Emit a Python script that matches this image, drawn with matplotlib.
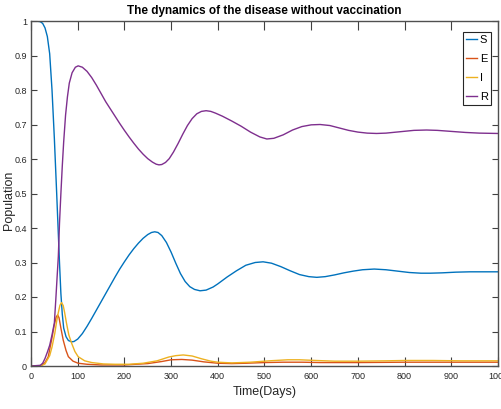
import matplotlib
matplotlib.use("Agg")
import matplotlib.pyplot as plt
from matplotlib import font_manager

names = {f.name for f in font_manager.fontManager.ttflist}
narrow = "Liberation Sans Narrow" if "Liberation Sans Narrow" in names else "Liberation Sans"

# ---- data ----
t_S = [0, 10, 20, 25, 30, 35, 40, 45, 50, 55, 58, 61, 64, 67, 70, 75, 80, 87, 92, 100,
       110, 120, 130, 140, 150, 160, 170, 180, 190, 200, 210, 220, 230, 240, 250, 258,
       265, 272, 280, 290, 300, 310, 320, 330, 340, 350, 362, 375, 390, 400, 420, 440,
       460, 480, 497, 515, 535, 555, 575, 595, 612, 630, 650, 670, 690, 710, 735, 760,
       785, 810, 835, 855, 880, 910, 940, 970, 1000]
S = [1.0, 1.0, 0.998, 0.993, 0.98, 0.955, 0.905, 0.80, 0.66, 0.50, 0.40, 0.30, 0.21,
     0.15, 0.11, 0.085, 0.074, 0.070, 0.071, 0.078, 0.094, 0.115, 0.138, 0.162, 0.186,
     0.210, 0.234, 0.258, 0.281, 0.302, 0.322, 0.340, 0.356, 0.370, 0.381, 0.387, 0.389,
     0.387, 0.378, 0.358, 0.330, 0.298, 0.268, 0.245, 0.230, 0.222, 0.218, 0.220, 0.229,
     0.238, 0.258, 0.276, 0.292, 0.300, 0.302, 0.298, 0.288, 0.276, 0.265, 0.259, 0.257,
     0.259, 0.264, 0.270, 0.275, 0.279, 0.281, 0.279, 0.275, 0.271, 0.269, 0.269, 0.270,
     0.272, 0.273, 0.273, 0.273]

t_E = [0, 20, 25, 30, 37, 44, 50, 54, 57, 60, 64, 69, 75, 80, 90, 101, 120, 150, 200,
       250, 280, 300, 323, 345, 370, 400, 430, 460, 500, 540, 580, 620, 700, 800, 900, 1000]
E = [0.0, 0.001, 0.004, 0.01, 0.027, 0.075, 0.12, 0.142, 0.148, 0.14, 0.11, 0.075,
     0.045, 0.027, 0.014, 0.008, 0.005, 0.003, 0.003, 0.007, 0.013, 0.018, 0.019, 0.017,
     0.012, 0.008, 0.007, 0.008, 0.010, 0.011, 0.011, 0.010, 0.010, 0.011, 0.011, 0.011]

t_I = [0, 20, 30, 40, 45, 51, 55, 58.5, 62, 65.5, 69, 72, 76, 81, 87, 94, 101, 115, 130,
       155, 180, 210, 240, 270, 295, 310, 326, 345, 365, 385, 400, 430, 470, 510, 550,
       575, 610, 650, 700, 760, 800, 860, 920, 1000]
I = [0.0, 0.0, 0.006, 0.03, 0.055, 0.095, 0.13, 0.155, 0.176, 0.184, 0.175, 0.155,
     0.124, 0.09, 0.066, 0.042, 0.027, 0.015, 0.010, 0.006, 0.005, 0.005, 0.008, 0.015,
     0.026, 0.030, 0.032, 0.029, 0.021, 0.014, 0.011, 0.009, 0.011, 0.015, 0.018, 0.018,
     0.016, 0.014, 0.014, 0.015, 0.016, 0.016, 0.015, 0.015]

t_R = [0, 20, 25, 30, 35, 40, 45, 50, 53, 56, 58.5, 61, 64, 67, 70, 74, 78, 82, 88, 95,
       101, 110, 120, 130, 140, 150, 160, 170, 180, 190, 200, 210, 220, 230, 240, 250,
       260, 268, 274, 280, 288, 296, 305, 315, 325, 335, 345, 355, 365, 375, 385, 395,
       410, 430, 450, 470, 490, 505, 520, 540, 560, 580, 600, 619, 640, 660, 680, 700,
       720, 740, 760, 790, 820, 847, 870, 900, 930, 960, 1000]
R = [0.0, 0.002, 0.008, 0.022, 0.04, 0.06, 0.09, 0.125, 0.19, 0.26, 0.317, 0.413, 0.50,
     0.58, 0.65, 0.727, 0.78, 0.82, 0.85, 0.866, 0.870, 0.866, 0.854, 0.836, 0.814,
     0.790, 0.766, 0.745, 0.724, 0.703, 0.683, 0.664, 0.646, 0.629, 0.614, 0.601, 0.591,
     0.585, 0.583, 0.584, 0.590, 0.601, 0.620, 0.645, 0.672, 0.697, 0.717, 0.731, 0.738,
     0.740, 0.738, 0.733, 0.724, 0.710, 0.695, 0.678, 0.664, 0.658, 0.660, 0.670, 0.684,
     0.694, 0.699, 0.700, 0.697, 0.690, 0.683, 0.678, 0.675, 0.674, 0.675, 0.679, 0.683,
     0.684, 0.683, 0.680, 0.677, 0.675, 0.674]

labels = ["S", "E", "I", "R"]
colors = ["#0072BD", "#D95319", "#EDB120", "#7E2F8E"]
x_ticks = [0, 100, 200, 300, 400, 500, 600, 700, 800, 900, 1000]
y_ticks = [0, 0.1, 0.2, 0.3, 0.4, 0.5, 0.6, 0.7, 0.8, 0.9, 1]
y_ticklabels = ["0", "0.1", "0.2", "0.3", "0.4", "0.5", "0.6", "0.7", "0.8", "0.9", "1"]

fig = plt.figure(figsize=(5.02, 4.09), dpi=100)
ax = fig.add_axes([31 / 502, 1 - 366 / 409, 467 / 502, 345 / 409])

for (tt, vv), lab, col in zip([(t_S, S), (t_E, E), (t_I, I), (t_R, R)], labels, colors):
    ax.plot(tt, vv, color=col, lw=1.0, label=lab)

ax.set_xlim(0, 1000)
ax.set_ylim(0, 1)
ax.set_xticks(x_ticks)
ax.set_xticklabels([str(v) for v in x_ticks], fontfamily=narrow, fontsize=6.5, color="#262626")
ax.set_yticks(y_ticks)
ax.set_yticklabels(y_ticklabels, fontfamily=narrow, fontsize=6.5, color="#262626")
ax.tick_params(axis="x", direction="in", top=True, length=6.5, width=0.8, color="#404040", pad=4)
ax.tick_params(axis="y", direction="in", right=True, length=4, width=0.8, color="#404040", pad=3)
for s in ax.spines.values():
    s.set_color("#505050")
    s.set_linewidth(1.0)

ax.set_title("The dynamics of the disease without vaccination", fontfamily=narrow,
             fontweight="bold", fontsize=8.5, color="black", pad=5)
ax.set_xlabel("Time(Days)", fontfamily=narrow, fontsize=9, color="#262626", labelpad=4)
ax.set_ylabel("Population", fontfamily="Liberation Sans", fontsize=9, color="#262626")
ax.yaxis.set_label_coords(-0.034, 0.48)

leg = ax.legend(loc="upper right", bbox_to_anchor=(0.985, 0.968), borderaxespad=0,
                fancybox=False, framealpha=1, edgecolor="#262626",
                prop={"family": narrow, "size": 8}, handlelength=1.0,
                handletextpad=0.2, labelspacing=0.8, borderpad=0.3)
leg.get_frame().set_linewidth(0.8)

fig.savefig("out.png", dpi=100)
